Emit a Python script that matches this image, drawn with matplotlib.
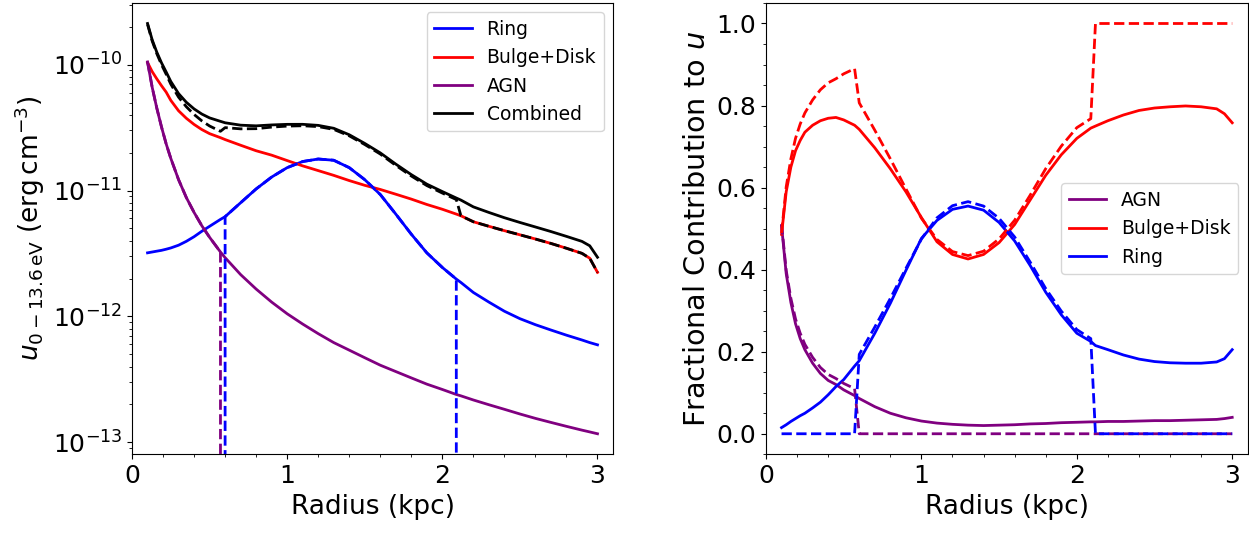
import numpy as np
import matplotlib
matplotlib.use('Agg')
import matplotlib.pyplot as plt

# radius grid (kpc)
radius = np.array([0.10, 0.13, 0.16, 0.19, 0.22, 0.25, 0.30, 0.35, 0.40, 0.45,
                   0.50, 0.57, 0.60, 0.70, 0.80, 0.90, 1.00, 1.10, 1.20, 1.30,
                   1.40, 1.50, 1.60, 1.70, 1.80, 1.90, 2.00, 2.09, 2.12, 2.20,
                   2.30, 2.40, 2.50, 2.60, 2.70, 2.80, 2.90, 2.95, 3.00])

# energy density 0-13.6 eV of each component (erg cm^-3)
u_ring = np.array([3.2e-12, 3.25e-12, 3.3e-12, 3.35e-12, 3.42e-12, 3.5e-12,
                   3.68e-12, 3.95e-12, 4.3e-12, 4.75e-12, 5.2e-12, 5.9e-12,
                   6.2e-12, 8.0e-12, 1.03e-11, 1.28e-11, 1.52e-11, 1.7e-11,
                   1.78e-11, 1.74e-11, 1.52e-11, 1.22e-11, 9.3e-12, 6.5e-12,
                   4.5e-12, 3.2e-12, 2.45e-12, 1.98e-12, 1.86e-12, 1.55e-12,
                   1.3e-12, 1.1e-12, 9.6e-13, 8.6e-13, 7.8e-13, 7.1e-13,
                   6.5e-13, 6.2e-13, 5.95e-13])
u_bulge = np.array([1.04e-10, 8.8e-11, 7.7e-11, 6.8e-11, 6.05e-11, 5.2e-11,
                    4.3e-11, 3.75e-11, 3.35e-11, 3.05e-11, 2.83e-11, 2.63e-11,
                    2.54e-11, 2.29e-11, 2.07e-11, 1.91e-11, 1.73e-11, 1.57e-11,
                    1.44e-11, 1.32e-11, 1.2e-11, 1.1e-11, 1.02e-11, 9.35e-12,
                    8.55e-12, 7.75e-12, 7.1e-12, 6.5e-12, 6.3e-12, 5.65e-12,
                    5.2e-12, 4.8e-12, 4.45e-12, 4.12e-12, 3.8e-12, 3.48e-12,
                    3.17e-12, 2.9e-12, 2.24e-12])
u_agn = np.array([1.05e-10, 6.6e-11, 4.5e-11, 3.2e-11, 2.35e-11, 1.8e-11,
                  1.22e-11, 8.8e-12, 6.7e-12, 5.25e-12, 4.25e-12, 3.25e-12,
                  2.93e-12, 2.15e-12, 1.65e-12, 1.3e-12, 1.05e-12, 8.7e-13,
                  7.3e-13, 6.2e-13, 5.4e-13, 4.7e-13, 4.1e-13, 3.65e-13,
                  3.25e-13, 2.9e-13, 2.63e-13, 2.4e-13, 2.34e-13, 2.17e-13,
                  1.99e-13, 1.83e-13, 1.68e-13, 1.55e-13, 1.44e-13, 1.34e-13,
                  1.25e-13, 1.21e-13, 1.17e-13])

# fractional contribution of each component to u
frac_agn = np.array([0.507, 0.39, 0.32, 0.268, 0.232, 0.205, 0.172, 0.147, 0.13,
                     0.12, 0.107, 0.093, 0.086, 0.066, 0.05, 0.039, 0.031, 0.026,
                     0.023, 0.021, 0.020, 0.021, 0.022, 0.024, 0.025, 0.027,
                     0.028, 0.029, 0.029, 0.030, 0.030, 0.031, 0.032, 0.032,
                     0.033, 0.034, 0.035, 0.037, 0.040])
frac_ring = np.array([0.015, 0.022, 0.03, 0.037, 0.044, 0.05, 0.063, 0.077, 0.095,
                      0.115, 0.132, 0.165, 0.178, 0.245, 0.318, 0.398, 0.476, 0.52,
                      0.547, 0.555, 0.545, 0.515, 0.47, 0.41, 0.345, 0.29, 0.245,
                      0.225, 0.215, 0.205, 0.192, 0.182, 0.176, 0.173, 0.172,
                      0.172, 0.175, 0.183, 0.205])
frac_bulge = np.array([0.486, 0.59, 0.65, 0.69, 0.715, 0.735, 0.752, 0.763, 0.769,
                       0.771, 0.765, 0.752, 0.742, 0.697, 0.646, 0.59, 0.527, 0.468,
                       0.437, 0.426, 0.437, 0.466, 0.51, 0.57, 0.63, 0.68, 0.72,
                       0.745, 0.75, 0.763, 0.777, 0.788, 0.794, 0.797, 0.799,
                       0.797, 0.792, 0.78, 0.758])

# radii where the truncated (dashed) components stop / start
agn_cut = 0.57
ring_min, ring_max = 0.60, 2.09

keep_agn = radius <= agn_cut
keep_ring = (radius >= ring_min) & (radius <= ring_max)

u_comb = u_ring + u_bulge + u_agn
u_agn_d = np.where(keep_agn, u_agn, 0.0)
u_ring_d = np.where(keep_ring, u_ring, 0.0)
u_comb_d = u_bulge + u_agn_d + u_ring_d

f_agn_d = np.where(keep_agn, frac_agn, 0.0)
f_ring_d = np.where(keep_ring, frac_ring, 0.0)
f_tot_d = frac_bulge + f_agn_d + f_ring_d

fs = 19
lw = 2

fig = plt.figure(figsize=(12.49, 5.33), dpi=100)
ax1 = fig.add_axes([0.1057, 0.1477, 0.3851, 0.8467])
ax2 = fig.add_axes([0.6133, 0.1477, 0.3857, 0.8467])

ax1.plot(radius, u_ring, color='blue', lw=lw, label='Ring')
ax1.plot(radius, u_bulge, color='red', lw=lw, label='Bulge+Disk')
ax1.plot(radius, u_agn, color='purple', lw=lw, label='AGN')
ax1.plot(radius, u_comb, color='black', lw=lw, label='Combined')
ax1.plot(radius, u_ring_d, color='blue', lw=lw, ls='--')
ax1.plot(radius, u_agn_d, color='purple', lw=lw, ls='--')
ax1.plot(radius, u_comb_d, color='black', lw=lw, ls='--')
ax1.set_yscale('log')
ax1.set_xlim(0, 3.1)
ax1.set_yticks([1e-13, 1e-12, 1e-11, 1e-10])
ax1.set_xlabel('Radius (kpc)', fontsize=fs)
ax1.set_ylabel(r'$u_{0-13.6\,\mathrm{eV}}$ (erg$\,$cm$^{-3}$)', fontsize=19)
ax1.minorticks_on()
ax1.tick_params(labelsize=18)
ax1.legend(loc='upper right', fontsize=13.5)

ax2.plot(radius, frac_agn, color='purple', lw=lw, label='AGN')
ax2.plot(radius, frac_bulge, color='red', lw=lw, label='Bulge+Disk')
ax2.plot(radius, frac_ring, color='blue', lw=lw, label='Ring')
ax2.plot(radius, f_agn_d / f_tot_d, color='purple', lw=lw, ls='--')
ax2.plot(radius, frac_bulge / f_tot_d, color='red', lw=lw, ls='--')
ax2.plot(radius, f_ring_d / f_tot_d, color='blue', lw=lw, ls='--')
ax2.set_xlim(0, 3.1)
ax2.set_xlabel('Radius (kpc)', fontsize=fs)
ax2.set_ylabel('Fractional Contribution to $u$', fontsize=20.7)
ax2.minorticks_on()
ax2.tick_params(labelsize=18)
ax2.legend(loc='center right', fontsize=13.5)

fig.savefig('out.png', dpi=100)
